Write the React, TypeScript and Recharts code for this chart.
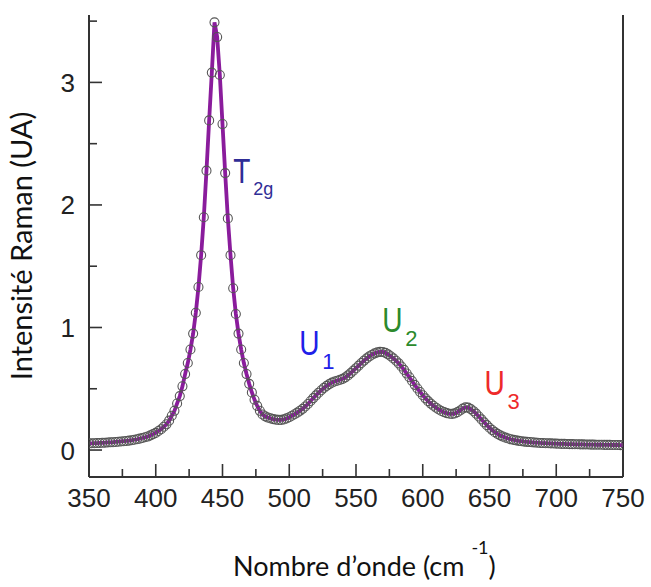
import { ReactElement } from 'react'
import { LineChart, Line, XAxis, YAxis, ReferenceLine, ReferenceDot } from 'recharts'

// Raman shift, cm-1
const wavenumbers = [
  350, 352, 354, 356, 358, 360, 362, 364, 366, 368, 370, 372, 374, 376, 378, 380, 382, 384, 386, 388, 390, 392, 394, 396, 398,
  400, 402, 404, 406, 408, 410, 412, 414, 416, 418, 420, 422, 424, 426, 428, 430, 432, 434, 436, 438, 440, 442, 444, 446, 448,
  450, 452, 454, 456, 458, 460, 462, 464, 466, 468, 470, 472, 474, 476, 478, 480, 482, 484, 486, 488, 490, 492, 494, 496, 498,
  500, 502, 504, 506, 508, 510, 512, 514, 516, 518, 520, 522, 524, 526, 528, 530, 532, 534, 536, 538, 540, 542, 544, 546, 548,
  550, 552, 554, 556, 558, 560, 562, 564, 566, 568, 570, 572, 574, 576, 578, 580, 582, 584, 586, 588, 590, 592, 594, 596, 598,
  600, 602, 604, 606, 608, 610, 612, 614, 616, 618, 620, 622, 624, 626, 628, 630, 632, 634, 636, 638, 640, 642, 644, 646, 648,
  650, 652, 654, 656, 658, 660, 662, 664, 666, 668, 670, 672, 674, 676, 678, 680, 682, 684, 686, 688, 690, 692, 694, 696, 698,
  700, 702, 704, 706, 708, 710, 712, 714, 716, 718, 720, 722, 724, 726, 728, 730, 732, 734, 736, 738, 740, 742, 744, 746, 748, 750,
]

// intensity (UA)
const intensity = [
  0.054, 0.055, 0.056, 0.057, 0.058, 0.059, 0.06, 0.062, 0.063, 0.064, 0.066, 0.068, 0.07, 0.072, 0.074, 0.077, 0.08, 0.084, 0.088, 0.093, 0.098, 0.104, 0.11, 0.12, 0.13,
  0.14, 0.155, 0.17, 0.19, 0.21, 0.24, 0.28, 0.32, 0.38, 0.44, 0.52, 0.62, 0.71, 0.82, 0.95, 1.12, 1.33, 1.59, 1.9, 2.28, 2.69, 3.08, 3.49, 3.37, 3.06,
  2.66, 2.26, 1.89, 1.59, 1.32, 1.11, 0.95, 0.82, 0.71, 0.62, 0.54, 0.47, 0.41, 0.36, 0.32, 0.29, 0.275, 0.265, 0.258, 0.252, 0.248, 0.246, 0.246, 0.25, 0.258,
  0.268, 0.28, 0.292, 0.305, 0.32, 0.336, 0.355, 0.376, 0.4, 0.424, 0.446, 0.468, 0.488, 0.507, 0.524, 0.538, 0.55, 0.559, 0.566, 0.573, 0.581, 0.593, 0.609, 0.628, 0.648,
  0.668, 0.689, 0.71, 0.73, 0.748, 0.764, 0.778, 0.789, 0.797, 0.801, 0.8, 0.793, 0.781, 0.765, 0.748, 0.729, 0.707, 0.682, 0.654, 0.624, 0.594, 0.563, 0.532, 0.502, 0.474,
  0.447, 0.422, 0.399, 0.379, 0.361, 0.345, 0.331, 0.319, 0.309, 0.301, 0.296, 0.295, 0.299, 0.309, 0.323, 0.338, 0.348, 0.346, 0.334, 0.317, 0.297, 0.274, 0.25, 0.226, 0.203,
  0.182, 0.163, 0.146, 0.132, 0.12, 0.11, 0.101, 0.094, 0.088, 0.083, 0.079, 0.075, 0.072, 0.069, 0.067, 0.065, 0.063, 0.061, 0.06, 0.058, 0.057, 0.056, 0.055, 0.054, 0.053,
  0.052, 0.051, 0.05, 0.05, 0.049, 0.048, 0.048, 0.047, 0.047, 0.046, 0.046, 0.045, 0.045, 0.044, 0.044, 0.043, 0.043, 0.043, 0.042, 0.042, 0.042, 0.041, 0.041, 0.041, 0.04, 0.04,
]

const xTicks = [350, 375, 400, 425, 450, 475, 500, 525, 550, 575, 600, 625, 650, 675, 700, 725, 750]
const yTicks = [0, 0.5, 1, 1.5, 2, 2.5, 3, 3.5]

const peakNames = ['T', 'U', 'U', 'U']
const peakSubs = ['2g', '1', '2', '3']
const peakColors = ['#2f2d96', '#2020e8', '#2c8a2c', '#ee2a2a']
// where each label sits, in data units
const peakLabelX = [458, 507.5, 569.7, 646.2]
const peakLabelY = [2.18, 0.774, 0.962, 0.448]

const data = wavenumbers.map((w, i) => ({ w, intensity: intensity[i] }))

const tickFont = 'Liberation Sans, Arial, sans-serif'
const titleFont = 'Lato, Calibri, sans-serif'

function XTick(props: any) {
  const { x, y, payload } = props
  const major = payload.value % 50 === 0
  return (
    <g>
      <line x1={x} x2={x} y1={y} y2={y - (major ? 13 : 8)} stroke="#333" strokeWidth={1.6} />
      {major && (
        <text x={x} y={y + 30} textAnchor="middle" fontSize={26} fill="#222" fontFamily={tickFont}>
          {payload.value}
        </text>
      )}
    </g>
  )
}

function YTick(props: any) {
  const { x, y, payload } = props
  const major = Number.isInteger(payload.value)
  return (
    <g>
      <line x1={x} x2={x + (major ? 13 : 8)} y1={y} y2={y} stroke="#333" strokeWidth={1.6} />
      {major && (
        <text x={x - 14} y={y + 9.5} textAnchor="end" fontSize={26} fill="#222" fontFamily={tickFont}>
          {payload.value}
        </text>
      )}
    </g>
  )
}

function XTitle(props: any) {
  const { x, y } = props.viewBox
  return (
    <text x={x + 144} y={y + 99} fontSize={27} fill="#111" fontFamily={titleFont}>
      <tspan>Nombre d’onde (cm </tspan>
      <tspan dy={-22} fontSize={18}>-1</tspan>
      <tspan dy={22}>)</tspan>
    </text>
  )
}

function YTitle(props: any) {
  const { y, height } = props.viewBox
  const cy = y + height / 2
  return (
    <text
      x={32}
      y={cy}
      transform={`rotate(-90, 32, ${cy})`}
      textAnchor="middle"
      fontSize={29}
      fill="#111"
      fontFamily={titleFont}
    >
      Intensité Raman (UA)
    </text>
  )
}

function PeakLabel(props: any) {
  const { viewBox, idx } = props
  const { x, y } = viewBox
  const isT = idx === 0
  return (
    <g fill={peakColors[idx]} fontFamily={tickFont}>
      <text transform={`translate(${x},${y}) scale(0.78,1)`} fontSize={36}>
        {peakNames[idx]}
      </text>
      <text x={x + (isT ? 20 : 23)} y={y + (isT ? 12 : 14)} fontSize={isT ? 18 : 22}>
        {peakSubs[idx]}
      </text>
    </g>
  )
}

export default function App(): ReactElement {
  return (
    <div style={{ position: 'absolute', left: 0, top: 0, background: '#fff' }}>
      <LineChart
        width={651}
        height={587}
        data={data}
        margin={{ top: 15, right: 28, bottom: 0, left: 0 }}
      >
        <XAxis
          dataKey="w"
          type="number"
          domain={[350, 750]}
          ticks={xTicks}
          interval={0}
          allowDataOverflow
          height={110}
          tickSize={0}
          tickMargin={0}
          tickLine={false}
          tick={<XTick />}
          axisLine={{ stroke: '#333', strokeWidth: 2 }}
          label={<XTitle />}
        />
        <YAxis
          type="number"
          domain={[-0.22, 3.55]}
          ticks={yTicks}
          interval={0}
          allowDataOverflow
          width={89}
          tickSize={0}
          tickMargin={0}
          tickLine={false}
          tick={<YTick />}
          axisLine={{ stroke: '#333', strokeWidth: 2 }}
          label={<YTitle />}
        />
        <ReferenceLine x={750} stroke="#333" strokeWidth={2} ifOverflow="visible" />
        <Line
          dataKey="intensity"
          stroke="#8a1c9c"
          strokeWidth={3.8}
          dot={false}
          isAnimationActive={false}
        />
        <Line
          dataKey="intensity"
          stroke="none"
          dot={{ r: 4.5, fill: 'none', stroke: '#555', strokeWidth: 1.1 }}
          isAnimationActive={false}
        />
        {peakNames.map((n, i) => (
          <ReferenceDot
            key={`${n}${peakSubs[i]}`}
            x={peakLabelX[i]}
            y={peakLabelY[i]}
            r={0}
            fill="none"
            stroke="none"
            label={<PeakLabel idx={i} />}
          />
        ))}
      </LineChart>
    </div>
  )
}
